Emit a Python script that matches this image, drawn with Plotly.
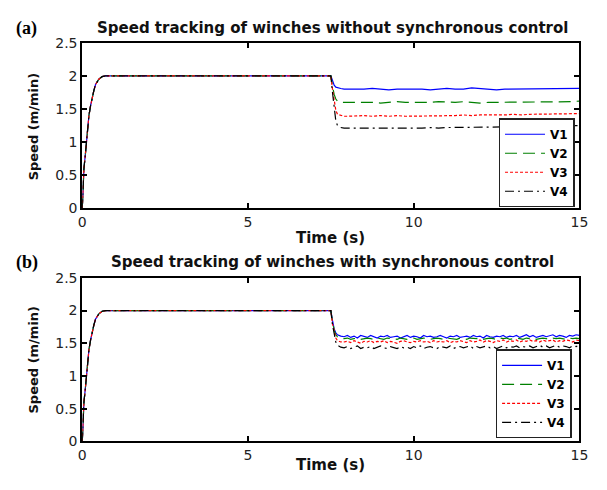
import plotly.graph_objects as go

# ---------------- data ----------------
# common start-up (rise to 2 m/min and plateau until the load change at 7.5 s)
t_rise = [0, 0.02, 0.05, 0.1, 0.15, 0.2, 0.25, 0.3, 0.35, 0.4, 0.5, 0.6, 0.7, 2.0, 4.0, 6.0, 7.5]
v_rise = [0, 0.35, 0.6, 0.85, 1.15, 1.4, 1.55, 1.68, 1.78, 1.87, 1.95, 1.99, 2.0, 2.0, 2.0, 2.0, 2.0]

# (a) without synchronous control
t_a_drop = [7.55, 7.6, 7.65, 7.7, 7.8, 7.9]
v1_a_drop = [1.93, 1.86, 1.83, 1.82, 1.81, 1.80]
v2_a_drop = [1.85, 1.72, 1.65, 1.62, 1.60, 1.60]
v3_a_drop = [1.80, 1.60, 1.48, 1.42, 1.40, 1.39]
v4_a_drop = [1.75, 1.50, 1.32, 1.25, 1.22, 1.21]

t_a = [8.0, 8.25, 8.5, 8.75, 9.0, 9.25, 9.5, 9.75, 10.0, 10.25, 10.5, 10.75, 11.0, 11.25,
       11.5, 11.75, 12.0, 12.25, 12.5, 12.75, 13.0, 13.25, 13.5, 13.75, 14.0, 14.25, 14.5,
       14.75, 15.0]
v1_a = [1.80, 1.79, 1.80, 1.81, 1.80, 1.79, 1.80, 1.80, 1.81, 1.80, 1.79, 1.80, 1.81, 1.80,
        1.80, 1.82, 1.81, 1.80, 1.79, 1.80, 1.80, 1.81, 1.80, 1.80, 1.80, 1.81, 1.80, 1.80, 1.81]
v2_a = [1.60, 1.60, 1.61, 1.60, 1.59, 1.60, 1.61, 1.60, 1.60, 1.59, 1.60, 1.61, 1.60, 1.60,
        1.61, 1.60, 1.59, 1.60, 1.60, 1.61, 1.60, 1.60, 1.61, 1.60, 1.60, 1.61, 1.60, 1.61, 1.62]
v3_a = [1.39, 1.40, 1.40, 1.39, 1.40, 1.39, 1.40, 1.39, 1.39, 1.40, 1.39, 1.40, 1.40, 1.40,
        1.41, 1.40, 1.41, 1.41, 1.40, 1.41, 1.42, 1.41, 1.42, 1.42, 1.43, 1.43, 1.42, 1.43, 1.43]
v4_a = [1.21, 1.21, 1.20, 1.20, 1.20, 1.21, 1.20, 1.21, 1.21, 1.21, 1.22, 1.21, 1.22, 1.22,
        1.22, 1.22, 1.23, 1.22, 1.23, 1.23, 1.23, 1.24, 1.23, 1.24, 1.24, 1.24, 1.25, 1.25, 1.25]

# (b) with synchronous control
t_b_drop = [7.55, 7.6, 7.65, 7.7, 7.8]
v1_b_drop = [1.85, 1.72, 1.66, 1.63, 1.61]
v2_b_drop = [1.83, 1.70, 1.63, 1.60, 1.58]
v3_b_drop = [1.80, 1.66, 1.58, 1.54, 1.52]
v4_b_drop = [1.78, 1.62, 1.52, 1.47, 1.44]

t_b = [7.9, 8.0, 8.1, 8.2, 8.3, 8.4, 8.5, 8.6, 8.7, 8.8, 8.9, 9.0, 9.1, 9.2, 9.3, 9.4, 9.5,
       9.6, 9.7, 9.8, 9.9, 10.0, 10.1, 10.2, 10.3, 10.4, 10.5, 10.6, 10.7, 10.8, 10.9, 11.0,
       11.1, 11.2, 11.3, 11.4, 11.5, 11.6, 11.7, 11.8, 11.9, 12.0, 12.1, 12.2, 12.3, 12.4,
       12.5, 12.6, 12.7, 12.8, 12.9, 13.0, 13.1, 13.2, 13.3, 13.4, 13.5, 13.6, 13.7, 13.8,
       13.9, 14.0, 14.1, 14.2, 14.3, 14.4, 14.5, 14.6, 14.7, 14.8, 14.9, 15.0]
v1_b = [1.60, 1.62, 1.59, 1.61, 1.58, 1.62, 1.60, 1.59, 1.62, 1.60,
        1.58, 1.61, 1.60, 1.62, 1.59, 1.60, 1.61, 1.58, 1.60, 1.62,
        1.59, 1.61, 1.60, 1.58, 1.62, 1.60, 1.61, 1.59, 1.60, 1.62,
        1.60, 1.58, 1.61, 1.60, 1.62, 1.59, 1.60, 1.61, 1.59, 1.62,
        1.60, 1.61, 1.58, 1.62, 1.60, 1.59, 1.61, 1.60, 1.62, 1.59,
        1.61, 1.60, 1.62, 1.59, 1.61, 1.63, 1.60, 1.62, 1.59, 1.61,
        1.62, 1.60, 1.61, 1.63, 1.60, 1.62, 1.61, 1.59, 1.62, 1.61,
        1.63, 1.62]
v2_b = [1.57, 1.58, 1.56, 1.57, 1.58, 1.56, 1.57, 1.58, 1.57, 1.56,
        1.58, 1.57, 1.56, 1.58, 1.57, 1.57, 1.56, 1.58, 1.57, 1.56,
        1.57, 1.58, 1.56, 1.57, 1.58, 1.57, 1.56, 1.57, 1.58, 1.57,
        1.56, 1.58, 1.57, 1.57, 1.56, 1.58, 1.57, 1.56, 1.58, 1.57,
        1.57, 1.58, 1.56, 1.57, 1.58, 1.57, 1.56, 1.58, 1.57, 1.58,
        1.56, 1.57, 1.58, 1.57, 1.56, 1.58, 1.57, 1.58, 1.56, 1.57,
        1.58, 1.57, 1.56, 1.58, 1.57, 1.58, 1.57, 1.56, 1.58, 1.57,
        1.58, 1.57]
v3_b = [1.52, 1.53, 1.51, 1.54, 1.52, 1.50, 1.53, 1.52, 1.54, 1.51,
        1.53, 1.52, 1.54, 1.51, 1.53, 1.52, 1.50, 1.53, 1.54, 1.52,
        1.51, 1.53, 1.52, 1.54, 1.52, 1.53, 1.51, 1.54, 1.52, 1.53,
        1.52, 1.54, 1.51, 1.53, 1.52, 1.54, 1.53, 1.51, 1.54, 1.52,
        1.53, 1.55, 1.52, 1.54, 1.53, 1.51, 1.54, 1.53, 1.55, 1.52,
        1.54, 1.53, 1.55, 1.52, 1.54, 1.53, 1.55, 1.53, 1.54, 1.52,
        1.55, 1.53, 1.54, 1.55, 1.52, 1.54, 1.53, 1.55, 1.54, 1.52,
        1.55, 1.54]
v4_b = [1.43, 1.45, 1.42, 1.44, 1.46, 1.42, 1.44, 1.43, 1.45, 1.42,
        1.44, 1.46, 1.43, 1.42, 1.45, 1.44, 1.42, 1.45, 1.43, 1.44,
        1.42, 1.45, 1.43, 1.46, 1.42, 1.44, 1.45, 1.43, 1.42, 1.45,
        1.44, 1.43, 1.46, 1.42, 1.44, 1.45, 1.43, 1.44, 1.46, 1.42,
        1.45, 1.43, 1.44, 1.46, 1.43, 1.45, 1.42, 1.44, 1.46, 1.43,
        1.45, 1.44, 1.46, 1.43, 1.45, 1.44, 1.46, 1.43, 1.45, 1.47,
        1.44, 1.46, 1.43, 1.45, 1.47, 1.44, 1.46, 1.45, 1.43, 1.46,
        1.45, 1.47]

series_names = ["V1", "V2", "V3", "V4"]
x_ticks = [0, 5, 10, 15]
y_ticks = [0, 0.5, 1, 1.5, 2, 2.5]
y_tick_labels = ["0", "0.5", "1", "1.5", "2", "2.5"]
titles = ["Speed tracking of winches without synchronous control",
          "Speed tracking of winches with synchronous control"]
panel_labels = ["(a)", "(b)"]
x_title = "Time (s)"
y_title = "Speed (m/min)"

# ---------------- styles ----------------
colors = ["#0000ff", "#008000", "#ff0000", "#000000"]
dashes = ["solid", "12px,6px", "3px,2px", "9px,4px,2px,4px"]
FONT = "DejaVu Sans, Arial, sans-serif"

fig = go.Figure()

panels = [
    (t_a_drop, t_a, [v1_a_drop, v2_a_drop, v3_a_drop, v4_a_drop], [v1_a, v2_a, v3_a, v4_a], "x", "y", "legend"),
    (t_b_drop, t_b, [v1_b_drop, v2_b_drop, v3_b_drop, v4_b_drop], [v1_b, v2_b, v3_b, v4_b], "x2", "y2", "legend2"),
]
for tdrop, tss, drops, steadies, xa, ya, lg in panels:
    for i in range(4):
        fig.add_trace(go.Scatter(
            x=t_rise + tdrop + tss,
            y=v_rise + drops[i] + steadies[i],
            mode="lines", name=series_names[i],
            line=dict(color=colors[i], width=1.2, dash=dashes[i]),
            xaxis=xa, yaxis=ya, legend=lg,
        ))

xd = [80 / 607, 588 / 607]
axis_common = dict(
    showline=True, linecolor="black", linewidth=2, mirror="ticks",
    ticks="inside", ticklen=5, tickwidth=2, tickcolor="black",
    showgrid=False, zeroline=False,
    tickfont=dict(family=FONT, size=14, color="#222"),
)
legend_common = dict(xanchor="right", yanchor="bottom",
                     bgcolor="white", bordercolor="#222", borderwidth=1.5,
                     font=dict(family=FONT, size=12, color="black", weight="bold"),
                     tracegroupgap=0, itemwidth=40)
fig.update_layout(
    width=607, height=490,
    margin=dict(l=0, r=0, t=0, b=0),
    paper_bgcolor="white", plot_bgcolor="white",
    xaxis=dict(domain=xd, range=[0, 15], tickvals=x_ticks, anchor="y", **axis_common),
    yaxis=dict(domain=[1 - 207 / 490, 1 - 36 / 490], range=[0, 2.5], tickvals=y_ticks,
               ticktext=y_tick_labels, anchor="x", **axis_common),
    xaxis2=dict(domain=xd, range=[0, 15], tickvals=x_ticks, anchor="y2", **axis_common),
    yaxis2=dict(domain=[1 - 448 / 490, 1 - 279 / 490], range=[0, 2.5], tickvals=y_ticks,
                ticktext=y_tick_labels, anchor="x2", **axis_common),
    legend=dict(x=583 / 607, y=1 - 206 / 490, **legend_common),
    legend2=dict(x=580 / 607, y=1 - 445 / 490, **legend_common),
    showlegend=True,
)

ann = []
for k, (ty, py, xty, yty) in enumerate([(21, 21, 238, 122), (263, 263, 472, 363)]):
    ann.append(dict(text=titles[k], x=336 / 607, y=1 - ty / 490, xref="paper", yref="paper",
                    showarrow=False, xanchor="center", yanchor="middle",
                    font=dict(family=FONT, size=15, color="#111", weight="bold")))
    ann.append(dict(text=panel_labels[k], x=10 / 607, y=1 - py / 490, xref="paper", yref="paper",
                    showarrow=False, xanchor="left", yanchor="middle",
                    font=dict(family="Liberation Serif, Times New Roman, serif", size=18,
                              color="black", weight="bold")))
    ann.append(dict(text=x_title, x=334 / 607, y=1 - xty / 490, xref="paper", yref="paper",
                    showarrow=False, xanchor="center", yanchor="middle",
                    font=dict(family=FONT, size=15, color="#111", weight="bold")))
    ann.append(dict(text=y_title, x=30 / 607, y=1 - yty / 490, xref="paper", yref="paper",
                    showarrow=False, xanchor="center", yanchor="middle", textangle=-90,
                    font=dict(family=FONT, size=13, color="#111", weight="bold")))
fig.update_layout(annotations=ann)

fig.write_html("out.html")
